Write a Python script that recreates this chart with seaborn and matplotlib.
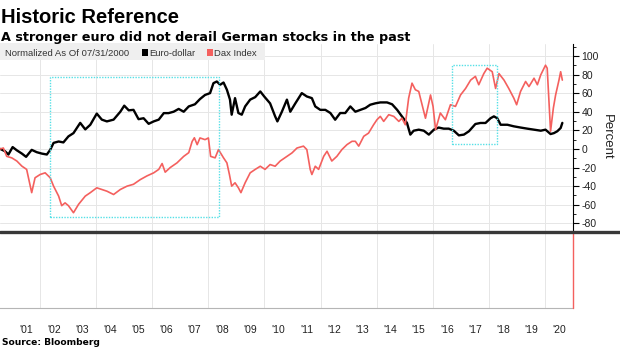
import numpy as np
import pandas as pd
import matplotlib
matplotlib.use("Agg")
import matplotlib.pyplot as plt
from matplotlib.patches import Rectangle
from matplotlib.lines import Line2D
import seaborn as sns

# ---------------- data (fractional years, % change since 07/31/2000) ----------------
eur_year = [2000.58, 2000.75, 2000.87, 2001.02, 2001.17, 2001.35, 2001.50, 2001.70, 2001.88, 2002.06,
            2002.24, 2002.36, 2002.48, 2002.66, 2002.83, 2003.01, 2003.19, 2003.43, 2003.61, 2003.79,
            2004.02, 2004.20, 2004.38, 2004.62, 2004.86, 2005.00, 2005.16, 2005.33, 2005.51, 2005.69,
            2005.87, 2006.05, 2006.23, 2006.41, 2006.58, 2006.76, 2006.94, 2007.12, 2007.30, 2007.52,
            2007.70, 2007.88, 2008.06, 2008.18, 2008.30, 2008.42, 2008.54, 2008.66, 2008.77, 2008.83,
            2008.95, 2009.07, 2009.19, 2009.31, 2009.49, 2009.67, 2009.85, 2009.99, 2010.20, 2010.38,
            2010.46, 2010.62, 2010.80, 2010.92, 2011.10, 2011.33, 2011.51, 2011.69, 2011.81, 2011.99,
            2012.17, 2012.35, 2012.52, 2012.70, 2012.88, 2013.06, 2013.24, 2013.42, 2013.60, 2013.77,
            2013.95, 2014.13, 2014.37, 2014.55, 2014.73, 2014.90, 2015.08, 2015.20, 2015.32, 2015.50,
            2015.68, 2015.86, 2016.04, 2016.21, 2016.39, 2016.57, 2016.75, 2016.93, 2017.11, 2017.29,
            2017.52, 2017.70, 2017.88, 2018.06, 2018.18, 2018.30, 2018.42, 2018.66, 2018.89, 2019.13,
            2019.37, 2019.61, 2019.85, 2020.02, 2020.20, 2020.32, 2020.44, 2020.56, 2020.62]
eur_pct = [0, -2.5, -6, 2, -1.5, -5, -8.5, -1, -3.5, -5,
           -6, -1, 6.5, 8, 7, 13.5, 17, 28, 21, 26,
           38, 31.5, 29.6, 31.5, 40, 46.5, 41.5, 42, 32, 33,
           27, 29.6, 31.5, 38.5, 38.5, 40, 43, 40, 45.7, 48,
           53.6, 58, 60, 70.7, 72.5, 69, 71.4, 63.6, 53, 36.8,
           54.6, 38.6, 36.8, 45.7, 53, 55.7, 61.8, 56.4, 49, 35,
           29.6, 40, 53, 40, 49, 60, 56.4, 54.6, 45.7, 42,
           42, 38.6, 31.4, 38.6, 38.6, 45.7, 40, 42, 44, 47.5,
           49, 50, 50, 48, 42, 35, 28, 15.4, 19.6, 20.7,
           19.6, 15.4, 20.7, 23, 21.8, 21.8, 19.6, 14.6, 15.4, 19,
           26.8, 27.9, 27.9, 33, 35, 33, 26, 26, 24.3, 23,
           21.8, 20.7, 19.6, 20.7, 16, 17, 19, 22.5, 28]

dax_year = [2000.58, 2000.69, 2000.81, 2000.99, 2001.17, 2001.35, 2001.52, 2001.70, 2001.82, 2002.00,
            2002.18, 2002.36, 2002.48, 2002.66, 2002.77, 2002.89, 2003.01, 2003.19, 2003.37, 2003.61,
            2003.79, 2004.02, 2004.20, 2004.38, 2004.62, 2004.86, 2005.10, 2005.33, 2005.57, 2005.81,
            2006.05, 2006.23, 2006.35, 2006.46, 2006.64, 2006.88, 2007.12, 2007.30, 2007.42, 2007.50,
            2007.60, 2007.70, 2007.88, 2008.00, 2008.08, 2008.24, 2008.36, 2008.54, 2008.66, 2008.75,
            2008.83, 2008.95, 2009.07, 2009.16, 2009.31, 2009.49, 2009.67, 2009.85, 2010.02, 2010.20,
            2010.38, 2010.56, 2010.80, 2010.98, 2011.16, 2011.39, 2011.51, 2011.63, 2011.69, 2011.81,
            2011.93, 2012.11, 2012.23, 2012.40, 2012.58, 2012.76, 2012.94, 2013.12, 2013.24, 2013.36,
            2013.54, 2013.71, 2013.89, 2014.01, 2014.13, 2014.25, 2014.43, 2014.61, 2014.79, 2014.90,
            2015.02, 2015.14, 2015.26, 2015.38, 2015.50, 2015.62, 2015.74, 2015.92, 2016.01, 2016.10,
            2016.27, 2016.45, 2016.63, 2016.81, 2016.99, 2017.17, 2017.35, 2017.52, 2017.64, 2017.82,
            2017.94, 2018.12, 2018.24, 2018.36, 2018.54, 2018.71, 2018.89, 2018.99, 2019.13, 2019.31,
            2019.43, 2019.61, 2019.73, 2019.85, 2020.02, 2020.08, 2020.20, 2020.30, 2020.38, 2020.50,
            2020.56, 2020.62]
dax_pct = [0, 1, -8, -9.6, -13, -18.5, -22, -47, -31, -27.5,
           -25.7, -31, -40, -50.7, -61, -58, -61, -68.6, -59.6, -50.7,
           -47, -41.8, -43.6, -45.4, -49, -43.6, -40, -38, -33, -29,
           -25.7, -22, -15.7, -25, -20, -15, -8, -4, 8, 12,
           4.6, 11.8, 10, 11.8, -8, -9.6, -0.7, -9.6, -15, -27.5,
           -40, -36.4, -41.8, -47, -36.4, -25.7, -22, -18.6, -22, -16.8,
           -18.6, -13, -8, -4.3, 1, 3, -0.7, -22, -27.5, -18.6,
           -22, -8, -2.5, -13, -8, -0.7, 4.6, 8.2, 8.2, 3,
           13.6, 17, 26, 31.4, 35, 29.6, 36.8, 35, 29.6, 33,
           26, 54.6, 70.7, 63.6, 61.8, 47.5, 33, 58, 45.7, 20.7,
           38.6, 31.4, 47.5, 45.7, 58, 65, 74, 78, 69, 81,
           86.8, 83, 65, 81, 74, 65, 54.6, 47.5, 61.8, 72.5,
           67, 76, 69, 79.6, 90, 86.8, 19, 44, 58, 74,
           83, 74]

series_names = ["Euro-dollar", "Dax Index"]
series_colors = ["#000000", "#f4605e"]
year_ticks = list(range(2001, 2022))
year_labels = ["'01", "'02", "'03", "'04", "'05", "'06", "'07", "'08", "'09", "'10",
               "'11", "'12", "'13", "'14", "'15", "'16", "'17", "'18", "'19", "'20"]
y_ticks = [-80, -60, -40, -20, 0, 20, 40, 60, 80, 100]
# highlight boxes: (x0, x1, y0, y1)
highlight_boxes = [(2002.37, 2008.37, -73, 77.5), (2016.69, 2018.29, 4.8, 90)]

title = "Historic Reference"
subtitle = "A stronger euro did not derail German stocks in the past"
legend_note = "Normalized As Of 07/31/2000"
source = "Source: Bloomberg"

# ---------------- style ----------------
sns.set_style("white")
plt.rcParams["font.family"] = ["Liberation Sans", "DejaVu Sans"]
plt.rcParams["axes.unicode_minus"] = False

W, H = 620, 348
fig = plt.figure(figsize=(W / 100, H / 100), dpi=100)
fx = lambda px: px / W
fy = lambda py: 1 - py / H

x_left, x_right = 2000.57, 2021.0
ax2 = fig.add_axes([0, fy(308), fx(573), fy(232) - fy(308)], zorder=0)
ax = fig.add_axes([0, fy(232), fx(573), fy(44) - fy(232)], zorder=1)
ax.patch.set_visible(False)
ax2.patch.set_visible(False)

df_e = pd.DataFrame({"year": eur_year, "pct": eur_pct})
df_d = pd.DataFrame({"year": dax_year, "pct": dax_pct})
sns.lineplot(data=df_e, x="year", y="pct", ax=ax, color=series_colors[0], lw=1.7,
             estimator=None, sort=False, zorder=3)
sns.lineplot(data=df_d, x="year", y="pct", ax=ax, color=series_colors[1], lw=1.2,
             estimator=None, sort=False, zorder=4)

for (x0, x1, y0, y1) in highlight_boxes:
    ax.add_patch(Rectangle((x0, y0), x1 - x0, y1 - y0, fill=False, ls=(0, (1, 1)),
                           lw=1.0, ec="#55e0e6", zorder=5))

ax.set_xlim(x_left, x_right)
ax.set_ylim(-89.3, 112.8)
ax.set_xlabel("")
ax.set_ylabel("")
ax.yaxis.tick_right()
ax.set_yticks(y_ticks)
ax.set_yticklabels([str(v) for v in y_ticks])
ax.set_yticks(np.arange(-80, 111, 10), minor=True)
ax.tick_params(axis="y", which="major", direction="out", length=4, width=0.8,
               color="black", labelsize=7.5, pad=2, labelcolor="#222222")
ax.tick_params(axis="y", which="minor", direction="out", length=2, width=0.6, color="black")
ax.set_xticks(year_ticks[1::2])
ax.tick_params(axis="x", which="both", length=0, labelbottom=False)
ax.grid(True, which="major", color="#e6e6e6", lw=0.7)
ax.set_axisbelow(True)
for s in ["left", "top", "bottom"]:
    ax.spines[s].set_visible(False)
ax.spines["right"].set_color("black")
ax.spines["right"].set_linewidth(0.8)

# lower panel
ax2.set_xlim(x_left, x_right)
ax2.set_ylim(0, 1)
ax2.set_yticks([])
ax2.set_xticks(year_ticks)
ax2.set_xticklabels([])
ax2.set_xticks([y + 0.5 for y in year_ticks[:-1]], minor=True)
ax2.set_xticklabels(year_labels, minor=True)
ax2.tick_params(axis="x", which="major", direction="out", length=18, width=0.8, color="#b5b5b5")
ax2.tick_params(axis="x", which="minor", length=0, pad=12, labelsize=7.5, labelcolor="#222222")
for yr in year_ticks[1::2]:
    ax2.axvline(yr, color="#e6e6e6", lw=0.7, zorder=0)
ax2.axvline(ax2.get_xlim()[1], color=series_colors[1], lw=1.0, clip_on=False, zorder=3)
for s in ["left", "top", "right"]:
    ax2.spines[s].set_visible(False)
ax2.spines["bottom"].set_color("#b5b5b5")
ax2.spines["bottom"].set_linewidth(0.8)

# thick separator across the full width
fig.add_artist(Line2D([0, 1], [fy(232), fy(232)], transform=fig.transFigure,
                      color="#383838", lw=2.4, zorder=6))

# titles
fig.text(fx(1), fy(23), title, fontsize=14.5, fontweight="bold", va="baseline", ha="left",
         family=["Liberation Sans"], color="black")
fig.text(fx(1), fy(41), subtitle, fontsize=9.2, fontweight="bold", va="baseline", ha="left",
         family=["DejaVu Sans"], color="black")

# legend bar
fig.patches.append(Rectangle((0, fy(60)), fx(265), fy(43) - fy(60), transform=fig.transFigure,
                             facecolor="#efefef", edgecolor="none", zorder=2))
fig.text(fx(5), fy(55.5), legend_note, fontsize=6.8, va="baseline", ha="left", color="#333333",
         zorder=3)
fig.patches.append(Rectangle((fx(142), fy(55.5)), fx(6), fy(49.5) - fy(55.5),
                             transform=fig.transFigure, facecolor=series_colors[0],
                             edgecolor="none", zorder=3))
fig.text(fx(149), fy(55.5), series_names[0], fontsize=6.8, va="baseline", ha="left",
         color="#333333", zorder=3)
fig.patches.append(Rectangle((fx(207), fy(55.5)), fx(6), fy(49.5) - fy(55.5),
                             transform=fig.transFigure, facecolor=series_colors[1],
                             edgecolor="none", zorder=3))
fig.text(fx(214), fy(55.5), series_names[1], fontsize=6.8, va="baseline", ha="left",
         color="#333333", zorder=3)

fig.text(fx(607), fy(137), "Percent", fontsize=9.5, rotation=270, ha="center", va="center",
         color="#222222")
fig.text(fx(2), fy(345), source, fontsize=6.6, fontweight="bold", va="baseline", ha="left",
         family=["DejaVu Sans"], color="black")

fig.savefig("out.png", dpi=100)
